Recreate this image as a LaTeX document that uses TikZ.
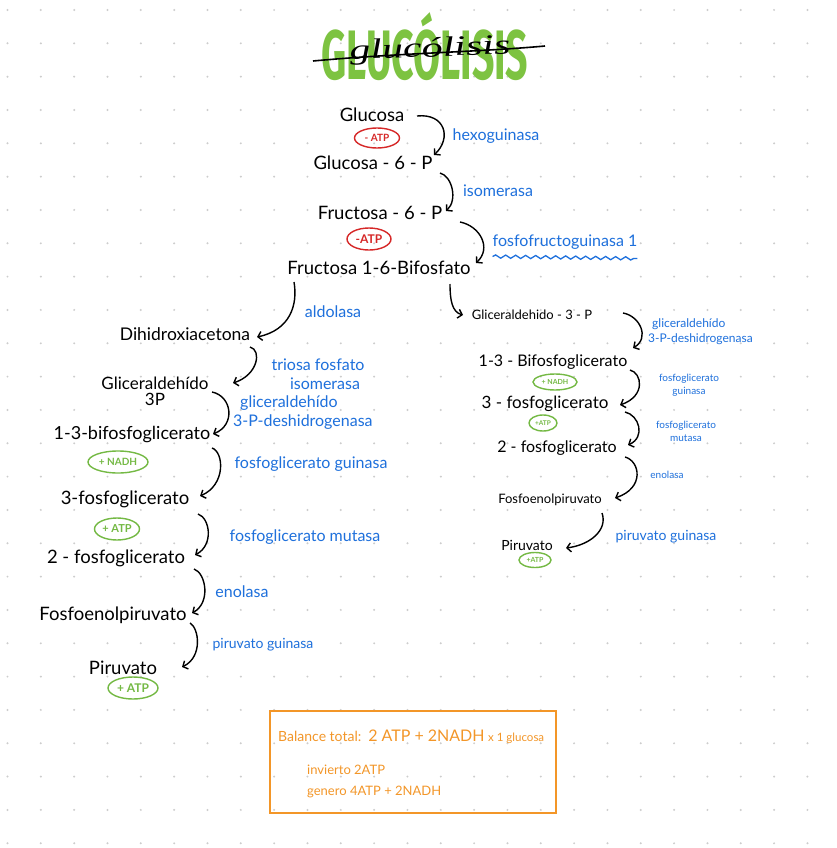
\documentclass[tikz,border=0pt]{standalone}
\usepackage{fontspec}
\setmainfont{Lato}
\newfontfamily\ttlfont{Fira Sans}
\newfontfamily\cursfont{Liberation Serif}
\usetikzlibrary{arrows.meta,decorations.pathmorphing,calc,shapes.geometric}
\definecolor{bl}{RGB}{30,112,220}
\definecolor{rd}{RGB}{214,40,40}
\definecolor{gr}{RGB}{116,185,68}
\definecolor{ttl}{RGB}{125,195,65}
\definecolor{orng}{RGB}{243,150,40}
\definecolor{dotc}{RGB}{205,205,205}
\begin{document}
\begin{tikzpicture}[x=1pt,y=-1pt,
  met/.style={text=black,inner sep=1pt,font=\fontsize{18.5}{21}\selectfont,align=center},
  metr/.style={text=black,inner sep=1pt,font=\fontsize{16}{18}\selectfont},
  enz/.style={text=bl,inner sep=0pt,font=\fontsize{16}{19}\selectfont,align=center},
  enzr/.style={text=bl,inner sep=0pt,font=\fontsize{12}{15}\selectfont,align=center},
  pill/.style={ellipse,draw,line width=1.4pt,inner sep=0pt,font=\bfseries\fontsize{10}{10}\selectfont},
  redpill/.style={pill,draw=rd,text=rd},
  grpill/.style={pill,draw=gr,text=gr},
  arr/.style={line width=1.4pt,black,-{Straight Barb[length=4pt,width=9pt]}},
  box/.style={draw=orng,line width=1.8pt}]
\fill[white] (0,0) rectangle (836,848);
\useasboundingbox (0,0) rectangle (836,848);
\foreach \i in {0,...,24}{\foreach \j in {0,...,25}{\fill[dotc] ({7.5+33.33*\i},{10+33.33*\j}) circle[radius=1.1pt];}}
% title
\node[text=ttl,font=\ttlfont\bfseries\fontsize{70}{70}\selectfont,xscale=0.56,inner sep=0pt] (title) at (425,47) {GLUCÓLISIS};
\draw[black,line width=1.6pt] (313,61) .. controls (400,53) and (480,52) .. (545,46);
\node[font=\cursfont\itshape\fontsize{28}{28}\selectfont,xscale=1.5,rotate=3,inner sep=0pt] (curs) at (430,50) {glucólisis};
% main top chain
\node[met] (glu) at (372,115) {Glucosa};
\node[redpill,minimum width=45pt,minimum height=20pt] (atp1) at (377,138) {- ATP};
\node[met] (g6p) at (373,163) {Glucosa - 6 - P};
\node[met] (f6p) at (380,213) {Fructosa - 6 - P};
\node[redpill,minimum width=44pt,minimum height=22pt,font=\bfseries\fontsize{12}{12}\selectfont] (atp2) at (369,239) {-ATP};
\node[met] (fbp) at (379,268) {Fructosa 1-6-Bifosfato};
\node[enz] (hexo) at (496,136) {hexoguinasa};
\node[enz] (iso) at (498,191) {isomerasa};
\node[enz] (pfk) at (565,242) {fosfofructoguinasa 1};
\draw[bl,line width=1.3pt,decorate,decoration={snake,amplitude=1.6pt,segment length=10pt}] ($(pfk.south west)+(0,7)$) -- ($(pfk.south east)+(0,9)$);
\draw[arr] ($(glu)+(45,1)$) .. controls +(28,-3) and +(18,-17) .. ($(g6p)+(61,-8)$);
\draw[arr] ($(g6p)+(67,10)$) .. controls +(12,3) and +(12,-11) .. ($(f6p)+(66,-2)$);
\draw[arr] ($(f6p)+(80,9)$) .. controls +(20,4) and +(16,-15) .. ($(fbp)+(97,-5)$);
% left chain
\node[met,font=\fontsize{17.5}{20}\selectfont] (dhap) at (185,334) {Dihidroxiacetona};
\node[met,font=\fontsize{17}{16}\selectfont] (g3pl) at (155,391) {Gliceraldehído\\3P};
\node[met,font=\fontsize{18}{20}\selectfont] (bpgl) at (132,435) {1-3-bifosfoglicerato};
\node[grpill,minimum width=60pt,minimum height=22pt] (nadhl) at (118,462) {+ NADH};
\node[met] (pg3l) at (125,499) {3-fosfoglicerato};
\node[grpill,minimum width=45pt,minimum height=22pt,font=\bfseries\fontsize{11}{11}\selectfont] (atpl1) at (117,529) {+ ATP};
\node[met] (pg2l) at (116,558) {2 - fosfoglicerato};
\node[met] (pepl) at (113,615) {Fosfoenolpiruvato};
\node[met] (pyrl) at (123,668) {Piruvato};
\node[grpill,minimum width=50pt,minimum height=22pt,font=\bfseries\fontsize{12}{12}\selectfont] (atpl2) at (133,688) {+ ATP};
\node[enz] (ald) at (333,312) {aldolasa};
\node[enz] (tpi) at (318,374) {triosa fosfato\\\hspace*{14pt}isomerasa};
\node[enz,align=left,anchor=west] (gapdhl) at (233,413) {\hspace*{7pt}gliceraldehído\\3-P-deshidrogenasa};
\node[enz] (pgkl) at (311,464) {fosfoglicerato guinasa};
\node[enz] (pgml) at (305,537) {fosfoglicerato mutasa};
\node[enz] (enol) at (242,592) {enolasa};
\node[enz,font=\fontsize{14}{16}\selectfont] (pkl) at (263,645) {piruvato guinasa};
\draw[arr] ($(fbp)+(-85,14)$) .. controls +(4,23) and +(33,-7) .. ($(dhap)+(72,3)$);
\draw[arr] ($(dhap)+(65,13)$) .. controls +(12,3) and +(25,-8) .. ($(g3pl)+(78,-8)$);
\draw[arr] ($(g3pl)+(57,1)$) .. controls +(20,4) and +(23,-9) .. ($(bpgl)+(81,-1)$);
\draw[arr] ($(bpgl)+(80,13)$) .. controls +(12,4) and +(26,-11) .. ($(pg3l)+(75,-3)$);
\draw[arr] ($(pg3l)+(73,15)$) .. controls +(12,4) and +(19,-10) .. ($(pg2l)+(79,-3)$);
\draw[arr] ($(pg2l)+(78,11)$) .. controls +(12,4) and +(19,-10) .. ($(pepl)+(79,-2)$);
\draw[arr] ($(pepl)+(77,8)$) .. controls +(9,5) and +(21,-10) .. ($(pyrl)+(59,-1)$);
% right chain
\node[metr,font=\fontsize{13}{15}\selectfont] (gapr) at (532,315) {Gliceraldehido - 3 - P};
\node[metr] (bpgr) at (553,362) {1-3 - Bifosfoglicerato};
\node[grpill,minimum width=44pt,minimum height=16pt,font=\bfseries\fontsize{7}{7}\selectfont] (nadhr) at (555,382) {+ NADH};
\node[metr,font=\fontsize{17}{19}\selectfont] (pg3r) at (545,404) {3 - fosfoglicerato};
\node[grpill,minimum width=28pt,minimum height=16pt,font=\bfseries\fontsize{6.5}{7}\selectfont] (atpr1) at (543,423) {+ATP};
\node[metr] (pg2r) at (557,448) {2 - fosfoglicerato};
\node[metr,font=\fontsize{13}{15}\selectfont] (pepr) at (550,500) {Fosfoenolpiruvato};
\node[metr,font=\fontsize{14}{16}\selectfont] (pyrr) at (527,545) {Piruvato};
\node[grpill,minimum width=32pt,minimum height=15pt,font=\bfseries\fontsize{7}{7}\selectfont] (atpr2) at (535,560) {+ATP};
\node[enzr,align=left,anchor=west] (gapdhr) at (648,332) {\hspace*{4pt}gliceraldehído\\3-P-deshidrogenasa};
\node[enzr,font=\fontsize{10}{13}\selectfont] (pgkr) at (689,385) {fosfoglicerato\\guinasa};
\node[enzr,font=\fontsize{10}{13}\selectfont] (pgmr) at (686,431) {fosfoglicerato\\mutasa};
\node[enzr,font=\fontsize{10}{12}\selectfont] (enor) at (667,475) {enolasa};
\node[enz,font=\fontsize{14}{16}\selectfont] (pkr) at (666,537) {piruvato guinasa};
\draw[arr] ($(fbp)+(71,16)$) .. controls +(0,16) and +(-11,-3) .. ($(gapr)+(-69,0)$);
\draw[arr] ($(gapr)+(91,-2)$) .. controls +(17,3) and +(17,-10) .. ($(bpgr)+(80,-14)$);
\draw[arr] ($(bpgr)+(77,8)$) .. controls +(12,3) and +(26,-9) .. ($(pg3r)+(75,1)$);
\draw[arr] ($(pg3r)+(80,8)$) .. controls +(14,3) and +(18,-8) .. ($(pg2r)+(71,-3)$);
\draw[arr] ($(pg2r)+(68,9)$) .. controls +(15,4) and +(30,-10) .. ($(pepr)+(65,-2)$);
\draw[arr] ($(pepr)+(52,13)$) .. controls +(6,17) and +(24,-3) .. ($(pyrr)+(39,3)$);
% balance box
\draw[box] (270,711) rectangle (556,813);
\node[text=orng,anchor=west,inner sep=0pt,font=\fontsize{14}{16}\selectfont] (bal) at (278,737) {Balance total:\enspace {\fontsize{16}{16}\selectfont 2 ATP + 2NADH} {\fontsize{11.5}{11}\selectfont x 1 glucosa}};
\node[text=orng,anchor=west,inner sep=0pt,font=\fontsize{13}{15}\selectfont] (inv) at (307,770) {invierto 2ATP};
\node[text=orng,anchor=west,inner sep=0pt,font=\fontsize{13}{15}\selectfont] (gen) at (307,792) {genero 4ATP + 2NADH};
\end{tikzpicture}
\end{document}
